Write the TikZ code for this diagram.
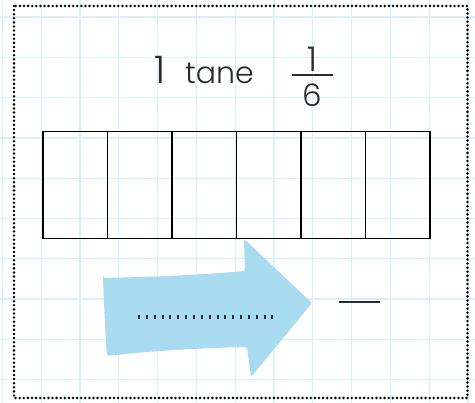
\documentclass[tikz,border=0pt]{standalone}
\usepackage{fontspec}
\IfFontExistsTF{Poppins Light}{\setmainfont{Poppins Light}}{\setmainfont{Poppins}}
\definecolor{gridblue}{HTML}{DCEFFA}
\definecolor{arrowblue}{HTML}{A8DAF0}
\definecolor{ink}{HTML}{2A2A2A}
\begin{document}
\begin{tikzpicture}[x=1pt,y=-1pt,
  gridline/.style={draw=gridblue,line width=1.3pt},
  cell/.style={draw=black,line width=1.5pt,minimum width=64.5pt,minimum height=107pt,inner sep=0pt,anchor=north west},
  label/.style={text=ink,inner sep=0pt},
  ]
\useasboundingbox (0,0) rectangle (475,403);
\fill[white] (0,0) rectangle (475,403);
% grid
\foreach \i in {0,...,12} \draw[gridline] (2.4+38.8*\i,0) -- (2.4+38.8*\i,403);
\foreach \j in {0,...,9} \draw[gridline] (0,17+40.3*\j) -- (475,17+40.3*\j);
% dotted border
\draw[black,line width=2.8pt,line cap=round,dash pattern=on 0pt off 4.1pt] (14,6) rectangle (467.5,398);
% title
\node[label,font=\fontsize{38}{42}\selectfont,anchor=base] (one) at (160,84) {1};
\node[label,font=\fontsize{30}{34}\selectfont,anchor=base west] (tane) at (185,84) {tane};
\node[label,font=\fontsize{34}{38}\selectfont,anchor=base] (num) at (312,72) {1};
\coordinate (barL) at (292,75);
\coordinate (barR) at (333,75);
\draw[ink,line width=1.8pt] (barL) -- (barR);
\node[label,font=\fontsize{31}{34}\selectfont,anchor=base] (den) at (312,107) {6};
% cells
\foreach \k in {0,...,5} \node[cell] (c\k) at (42+64.5*\k,131) {};
% arrow
\fill[arrowblue,rounded corners=2.5pt] (103,278) .. controls (150,277) and (200,275) .. (245,271)
  -- (244,239) -- (312,303) -- (251,377) -- (247,347)
  .. controls (200,348) and (150,351) .. (107,356) .. controls (105,330) and (104,300) .. cycle;
\coordinate (tickL) at (138,317);
\coordinate (tickR) at (274,317);
\draw[ink,line width=4pt,dash pattern=on 2pt off 5.85pt] (tickL) -- (tickR);
% answer dash
\coordinate (ansL) at (339,302);
\coordinate (ansR) at (380,302);
\draw[ink,line width=2.5pt] (ansL) -- (ansR);
\end{tikzpicture}
\end{document}
